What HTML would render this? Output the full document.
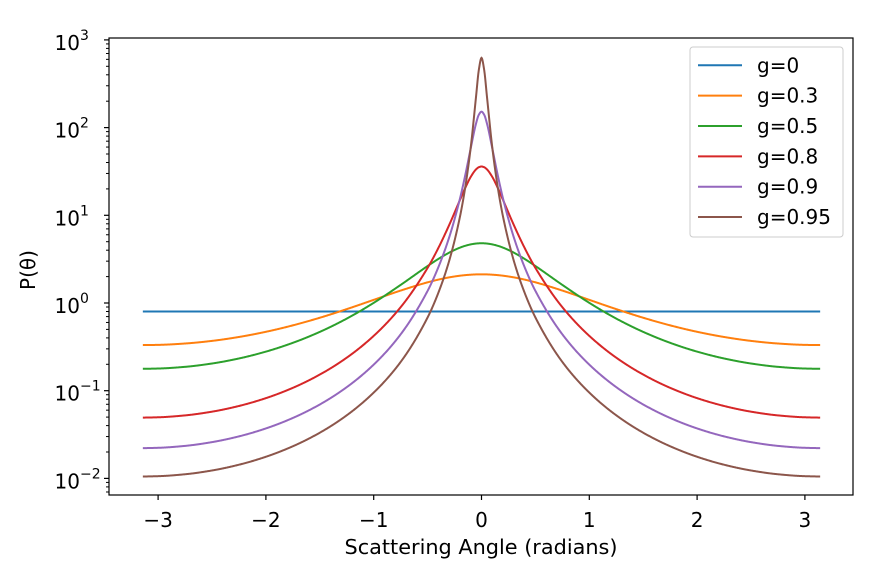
<!DOCTYPE html>
<html><head><meta charset="utf-8">
<style>
body{margin:0;background:#fff;}
svg{display:block;font-family:"DejaVu Sans","Liberation Sans",sans-serif;}
</style></head>
<body>
<svg id="chart" width="890" height="562" viewBox="0 0 890 562" xmlns="http://www.w3.org/2000/svg">
<rect x="0" y="0" width="890" height="562" fill="#fff"/>
<g id="plot"></g>
<g id="axes"></g>
<g id="legend"></g>
</svg>
<script>
// half-range sample angles (radians); curves are symmetric about 0
const angles = [0, 0.025, 0.05, 0.1, 0.15, 0.2, 0.3, 0.4, 0.5, 0.75, 1, 1.25, 1.5, 1.75, 2, 2.25, 2.5, 2.75, 3, 3.14159];
const seriesLabels = ["g=0", "g=0.3", "g=0.5", "g=0.8", "g=0.9", "g=0.95"];
const g0 = [0.8, 0.8, 0.8, 0.8, 0.8, 0.8, 0.8, 0.8, 0.8, 0.8, 0.8, 0.8, 0.8, 0.8, 0.8, 0.8, 0.8, 0.8, 0.8, 0.8];
const g03 = [2.122, 2.121, 2.118, 2.103, 2.079, 2.047, 1.960, 1.848, 1.721, 1.386, 1.086, 0.8515, 0.679, 0.5559, 0.4695, 0.4098, 0.3698, 0.3452, 0.3331, 0.3314];
const g05 = [4.8, 4.791, 4.764, 4.659, 4.494, 4.278, 3.751, 3.180, 2.640, 1.608, 1.004, 0.6640, 0.4685, 0.3515, 0.2790, 0.2331, 0.2042, 0.1871, 0.1790, 0.1778];
const g08 = [36, 35.33, 33.46, 27.39, 20.63, 14.94, 7.739, 4.247, 2.514, 0.8958, 0.4217, 0.2380, 0.1527, 0.1078, 0.08225, 0.06695, 0.05767, 0.05229, 0.04975, 0.04938];
const g09 = [152, 140, 112.1, 58.04, 28.95, 15.47, 5.593, 2.563, 1.375, 0.4392, 0.1983, 0.1098, 0.06964, 0.04887, 0.03713, 0.03014, 0.02592, 0.02348, 0.02233, 0.02216];
const g095 = [624, 453, 229.5, 59.34, 21.19, 9.616, 3.021, 1.310, 0.6843, 0.2127, 0.09515, 0.05242, 0.03318, 0.02325, 0.01765, 0.01432, 0.01231, 0.01115, 0.01060, 0.01052];
const xTicks = [-3, -2, -1, 0, 1, 2, 3];
const yTickExps = [-2, -1, 0, 1, 2, 3];

const colors = ["#1f77b4","#ff7f0e","#2ca02c","#d62728","#9467bd","#8c564b"];
const allSeries = [g0, g03, g05, g08, g09, g095];
const L = 109, R = 853, T = 38, B = 495;
const xScale = v => 481.5 + v * 107.8;
const yScale = v => 303 - Math.log10(v) * 87.7;
const NS = "http://www.w3.org/2000/svg";
function mk(tag, attrs, parent){const e=document.createElementNS(NS,tag);for(const k in attrs)e.setAttribute(k,attrs[k]);parent.appendChild(e);return e;}

function monotone(xs, ys){
  const n=xs.length, d=[], m=new Array(n);
  for(let i=0;i<n-1;i++) d.push((ys[i+1]-ys[i])/(xs[i+1]-xs[i]));
  m[0]=0; m[n-1]=0;
  for(let i=1;i<n-1;i++){ if(d[i-1]*d[i]<=0) m[i]=0; else { const w1=2*(xs[i+1]-xs[i])+(xs[i]-xs[i-1]), w2=(xs[i+1]-xs[i])+2*(xs[i]-xs[i-1]); m[i]=(w1+w2)/(w1/d[i-1]+w2/d[i]); } }
  return function(x){
    let i=0; while(i<n-2 && x>xs[i+1]) i++;
    const h=xs[i+1]-xs[i], t=(x-xs[i])/h, t2=t*t, t3=t2*t;
    return (2*t3-3*t2+1)*ys[i]+(t3-2*t2+t)*h*m[i]+(-2*t3+3*t2)*ys[i+1]+(t3-t2)*h*m[i+1];
  };
}

const plot=document.getElementById('plot');
allSeries.forEach((vals,si)=>{
  const xs=[], ys=[];
  for(let i=angles.length-1;i>0;i--){xs.push(-angles[i]);ys.push(Math.log10(vals[i]));}
  for(let i=0;i<angles.length;i++){xs.push(angles[i]);ys.push(Math.log10(vals[i]));}
  const f=monotone(xs,ys);
  let d="";
  const x0=xs[0], x1=xs[xs.length-1], N=1500;
  for(let k=0;k<=N;k++){const x=x0+(x1-x0)*k/N; const y=Math.pow(10,f(x)); d+=(k?"L":"M")+xScale(x).toFixed(2)+","+yScale(y).toFixed(2);}
  const p=mk('path',{d:d,fill:"none",stroke:colors[si],"stroke-width":2},plot);
  
  
});

const axes=document.getElementById('axes');
const frame=mk('rect',{x:L,y:T,width:R-L,height:B-T,fill:"none",stroke:"#000","stroke-width":1.2},axes);


xTicks.forEach(v=>{
  const x=xScale(v);
  mk('line',{x1:x,x2:x,y1:B,y2:B+5,stroke:"#000","stroke-width":1.2},axes);
  const t=mk('text',{x:x,y:B+32,"text-anchor":"middle","font-size":"20",fill:"#000"},axes);
  t.textContent=(v<0?"\u2212"+(-v):""+v);
  
  
});
yTickExps.forEach(e=>{
  const y=yScale(Math.pow(10,e));
  mk('line',{x1:L-5,x2:L,y1:y,y2:y,stroke:"#000","stroke-width":1.2},axes);
  const t=mk('text',{x:80,y:y+10,"text-anchor":"end","font-size":"20",fill:"#000"},axes);
  t.textContent="10";
  
  
  const s=mk('text',{x:80,y:y,"text-anchor":"start","font-size":"14",fill:"#000"},axes);
  s.textContent=(e<0?"\u2212"+(-e):""+e);
  
  
  for(let k=2;k<=9;k++){const yy=yScale(k*Math.pow(10,e-1)); if(yy<=B&&yy>=T) mk('line',{x1:L-3,x2:L,y1:yy,y2:yy,stroke:"#000","stroke-width":1},axes);}
});
const xt=mk('text',{x:481,y:554,"text-anchor":"middle","font-size":"20",fill:"#000",textLength:"273",lengthAdjust:"spacingAndGlyphs"},axes);
xt.textContent="Scattering Angle (radians)";


const yt=mk('text',{x:35,y:270,"text-anchor":"middle","font-size":"20",fill:"#000",transform:"rotate(-90 35 270)"},axes);
yt.textContent="P(\u03b8)";



const lg=document.getElementById('legend');


mk('rect',{x:690,y:47,width:153,height:190,rx:3,fill:"#fff","fill-opacity":0.8,stroke:"#ccc","stroke-width":1},lg);
seriesLabels.forEach((lab,i)=>{
  const y=65.3+i*30.35;
  const g=mk('g',{},lg);
  
  
  mk('line',{x1:698,x2:742,y1:y,y2:y,stroke:colors[i],"stroke-width":2},g);
  const t=mk('text',{x:757,y:y+7,"font-size":"20",fill:"#000"},g);
  t.textContent=lab;
});
</script>
</body></html>
